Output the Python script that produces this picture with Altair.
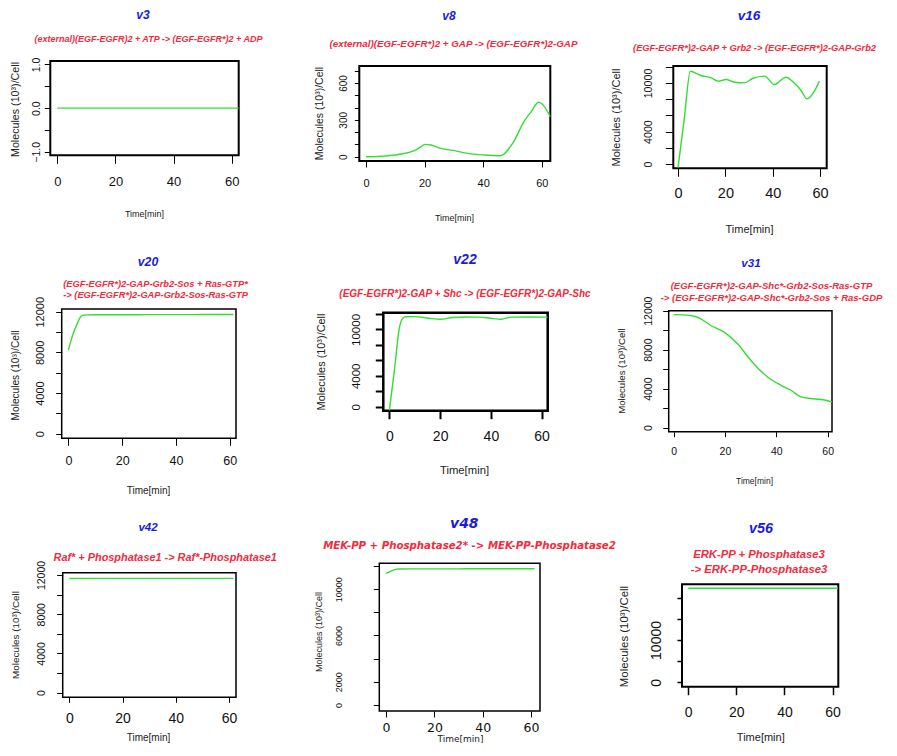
import json
import altair as alt
import pandas as pd

# ---------------- fonts / colours ----------------
NORM = "Liberation Sans"
WIDE = "DejaVu Sans"
BLUE = "#1c1cd8"
RED = "#f22a3c"
GREEN = "#33dd33"
INK = "#111111"

# ---------------- data ----------------
PANEL_NAMES = ["v3", "v8", "v16", "v20", "v22", "v31", "v42", "v48", "v56"]
REACTIONS = [
    ["(external)(EGF-EGFR)2 + ATP -> (EGF-EGFR*)2 + ADP"],
    ["(external)(EGF-EGFR*)2 + GAP -> (EGF-EGFR*)2-GAP"],
    ["(EGF-EGFR*)2-GAP + Grb2 -> (EGF-EGFR*)2-GAP-Grb2"],
    ["(EGF-EGFR*)2-GAP-Grb2-Sos + Ras-GTP*", "-> (EGF-EGFR*)2-GAP-Grb2-Sos-Ras-GTP"],
    ["(EGF-EGFR*)2-GAP + Shc -> (EGF-EGFR*)2-GAP-Shc"],
    ["(EGF-EGFR*)2-GAP-Shc*-Grb2-Sos-Ras-GTP", "-> (EGF-EGFR*)2-GAP-Shc*-Grb2-Sos + Ras-GDP"],
    ["Raf* + Phosphatase1 -> Raf*-Phosphatase1"],
    ["MEK-PP + Phosphatase2* -> MEK-PP-Phosphatase2"],
    ["ERK-PP + Phosphatase3", "-> ERK-PP-Phosphatase3"],
]
X_TITLE = "Time[min]"
Y_TITLE = "Molecules (10³)/Cell"

TIME_V3 = [0, 10, 20, 30, 40, 50, 60, 62.4]
MOL_V3 = [0, 0, 0, 0, 0, 0, 0, 0]

TIME_V8 = [0, 5, 10, 12, 16.5, 18.8, 20.2, 22.2, 25.6, 30.2, 34.7, 40.2, 45.8, 50.2, 53.9, 56.4, 58.9, 59.8, 62.9]
MOL_V8 = [0, 4, 14, 22, 49, 82, 100, 95, 68, 49, 27, 14, 8, 114, 285, 367, 443, 435, 326]

TIME_V16 = [0, 2.6, 5.2, 7.5, 9.7, 14, 17, 20.3, 23.8, 28, 31.5, 36.5, 40.7, 45.6, 49, 51.9, 54.5, 57.6, 59.7]
MOL_V16 = [-450, 5500, 11460, 11200, 10930, 10640, 10230, 10430, 10100, 10020, 10560, 10850, 9810, 10720,
           10020, 9110, 8040, 8990, 10230]

TIME_V20 = [0, 1, 2, 3, 4, 5, 7, 10, 20, 30, 40, 50, 61.3]
MOL_V20 = [8230, 9200, 10000, 10650, 11250, 11620, 11690, 11700, 11700, 11710, 11710, 11720, 11720]

TIME_V22 = [0, 2, 3.9, 5.3, 6.5, 10, 15.5, 20, 25, 30, 35, 40, 44, 48, 55, 62.4]
MOL_V22 = [-480, 4800, 10150, 11450, 11640, 11660, 11450, 11320, 11550, 11620, 11600, 11450, 11330, 11600,
           11620, 11600]

TIME_V31 = [0, 4, 8.05, 10.6, 14.5, 19.7, 24.9, 30.1, 36.6, 41.8, 45.7, 49.6, 53.5, 57.4, 61.7]
MOL_V31 = [11600, 11570, 11430, 11160, 10480, 9800, 8600, 6900, 5200, 4350, 3840, 3160, 2990, 2890, 2650]

TIME_V42 = [0, 10, 20, 30, 40, 50, 61.6]
MOL_V42 = [11640, 11660, 11660, 11660, 11660, 11660, 11660]

TIME_V48 = [0, 1, 2, 3, 4, 5, 10, 20, 30, 40, 50, 61.4]
MOL_V48 = [11370, 11450, 11560, 11650, 11710, 11740, 11750, 11750, 11755, 11760, 11760, 11760]

TIME_V56 = [0, 10, 20, 30, 40, 50, 62.3]
MOL_V56 = [22200, 22200, 22200, 22200, 22200, 22200, 22200]

SERIES = [(TIME_V3, MOL_V3), (TIME_V8, MOL_V8), (TIME_V16, MOL_V16),
          (TIME_V20, MOL_V20), (TIME_V22, MOL_V22), (TIME_V31, MOL_V31),
          (TIME_V42, MOL_V42), (TIME_V48, MOL_V48), (TIME_V56, MOL_V56)]

X_TICKS = [0, 20, 40, 60]
TICKS_12K = [0, 2000, 4000, 6000, 8000, 10000, 12000]
Y_TICKS = [
    [-1, -0.5, 0, 0.5, 1],
    [0, 100, 200, 300, 400, 500, 600, 700],
    TICKS_12K, TICKS_12K, TICKS_12K, TICKS_12K, TICKS_12K, TICKS_12K,
    [0, 5000, 10000, 15000, 20000],
]
Y_LABELED = [
    [-1, 0, 1],
    [0, 300, 600],
    [0, 4000, 10000],
    [0, 4000, 8000, 12000],
    [0, 4000, 10000],
    [0, 4000, 8000, 12000],
    [0, 4000, 8000, 12000],
    [0, 2000, 6000, 10000],
    [0, 10000],
]
Y_FORMAT = [".1f", "d", "d", "d", "d", "d", "d", "d", "d"]

# ---------------- layout (page pixel positions) ----------------
CELL_X = [8, 300, 600]
CELL_W = [292, 300, 285]
CELL_Y = [8, 250, 505]
CELL_H = [242, 255, 234]

LAYOUT = [
    dict(box=(49.3, 61, 237.7, 155.3), xd=(-2.4, 62.4), yd=(-1.08, 1.08), tsy=6, tsx=8, tw=1, sw=2,
         title=(142, 15, 12, NORM), sub=(147, 39, 9.0, NORM, 12),
         xlab=(181.7, 13, NORM), ylab=(35, 10.5, NORM), time=(143, 213, 9, NORM), ytitle=(14, 109, 10.7, NORM)),
    dict(box=(358.3, 66, 549.3, 161), xd=(-2.3, 62.9), yd=(-35, 738), tsy=5, tsx=6, tw=1, sw=2,
         title=(448, 16, 12, NORM), sub=(452, 43, 9.8, NORM, 13),
         xlab=(183, 11, NORM), ylab=(342.7, 10, NORM), time=(453, 217, 9, NORM), ytitle=(318, 113, 10.5, NORM)),
    dict(box=(672.3, 66, 825.7, 168.3), xd=(-2.0, 62.8), yd=(-530, 12100), tsy=8, tsx=8, tw=1, sw=2,
         title=(748, 15, 13.5, NORM), sub=(753, 48, 9.3, NORM, 13),
         xlab=(193.3, 14.5, NORM), ylab=(647.7, 10.7, NORM), time=(748, 229, 11, NORM), ytitle=(615, 117, 11, NORM)),
    dict(box=(60.7, 309, 235, 438.3), xd=(-2.5, 62.3), yd=(-452, 12266), tsy=6, tsx=7, tw=1, sw=1.5,
         title=(147, 261.7, 12.3, NORM), sub=(154, 283.3, 9.3, NORM, 11),
         xlab=(460.7, 12.5, NORM), ylab=(39.3, 11, NORM), time=(147, 490, 10, NORM), ytitle=(14, 375, 10.1, NORM)),
    dict(box=(382.3, 312.7, 546.7, 410.7), xd=(-2.4, 62.4), yd=(-518, 12170), tsy=8, tsx=8, tw=2, sw=2.5,
         title=(464, 259.3, 14, NORM), sub=(463.5, 293.3, 10, NORM, 12),
         xlab=(436.7, 14, NORM), ylab=(355, 11.5, NORM), time=(463, 470, 11.3, NORM), ytitle=(320.7, 361.5, 10.9, NORM)),
    dict(box=(667.7, 310.7, 831, 431.7), xd=(-1.9, 61.7), yd=(-410, 12000), tsy=6, tsx=5, tw=1, sw=1.5,
         title=(750, 263.3, 11.6, NORM), sub=(770, 284.3, 9.5, NORM, 12.4),
         xlab=(451.7, 10.5, NORM), ylab=(647, 10.5, NORM), time=(753, 480, 8.5, NORM), ytitle=(620.7, 370.6, 9.6, NORM)),
    dict(box=(61.7, 572.7, 235, 697.3), xd=(-2.5, 62.6), yd=(-470, 12235), tsy=6, tsx=5, tw=1, sw=1.5,
         title=(147, 526.7, 11.5, NORM), sub=(163.7, 556, 10.9, NORM, 13),
         xlab=(718.3, 14, NORM), ylab=(40, 10.5, NORM), time=(147, 737, 10, NORM), ytitle=(14, 634.5, 9.9, NORM)),
    dict(box=(378.3, 563.3, 539, 711), xd=(-2.8, 63.7), yd=(-518, 12232), tsy=6, tsx=6, tw=1, sw=1.5,
         title=(463.3, 523.3, 14, WIDE), sub=(468, 545, 10.2, WIDE, 12),
         xlab=(727.7, 12.5, WIDE), ylab=(337.3, 9, NORM), time=(459, 738, 9, WIDE), ytitle=(317.7, 631.5, 9, NORM)),
    dict(box=(681, 584.3, 837.3, 686.7), xd=(-2.6, 62.4), yd=(-1040, 23150), tsy=5, tsx=8, tw=1.5, sw=2,
         title=(760, 528.3, 14.4, NORM), sub=(757.5, 553.3, 11.3, NORM, 15),
         xlab=(712.3, 14, NORM), ylab=(655, 14, NORM), time=(759.3, 737, 11, NORM), ytitle=(623.3, 636, 11.4, NORM)),
]


def make_panel(i):
    L = LAYOUT[i]
    r, c = divmod(i, 3)
    ox, oy, W, H = CELL_X[c], CELL_Y[r], CELL_W[c], CELL_H[r]
    x0, y0, x1, y1 = L["box"]
    bx0, by0, bx1, by1 = x0 - ox, y0 - oy, x1 - ox, y1 - oy
    xs = alt.Scale(domain=list(L["xd"]), range=[bx0, bx1], nice=False, zero=False)
    ys = alt.Scale(domain=list(L["yd"]), range=[by1, by0], nice=False, zero=False)
    tcx, tcy, tfs, tfont = L["title"]
    scx, scy, sfs, sfont, slh = L["sub"]
    xl_cy, xl_fs, xl_font = L["xlab"]
    yl_cx, yl_fs, yl_font = L["ylab"]
    tm_cx, tm_cy, tm_fs, tm_font = L["time"]
    yt_cx, yt_cy, yt_fs, yt_font = L["ytitle"]
    tsx, tsy, tw = L["tsx"], L["tsy"], L["tw"]

    reaction = REACTIONS[i] if len(REACTIONS[i]) > 1 else REACTIONS[i][0]
    top_axis = alt.Axis(
        orient="top", offset=0, domain=False, ticks=False, labels=False, grid=False,
        minExtent=0, maxExtent=0,
        title=reaction, titleX=scx - ox, titleY=scy - oy - 0.45 * sfs,
        titleAlign="center", titleBaseline="top", titleAngle=0,
        titleColor=RED, titleFont=sfont, titleFontSize=sfs, titleFontStyle="italic",
        titleFontWeight="bold", titleLineHeight=slh,
    )
    bottom_axis = alt.Axis(
        orient="bottom", offset=-(H - by1), values=X_TICKS, format="d", domain=False, grid=False,
        ticks=True, tickSize=tsx, tickWidth=tw, tickColor="black",
        labelFont=xl_font, labelFontSize=xl_fs, labelColor=INK, labelAngle=0,
        labelAlign="center", labelBaseline="middle",
        labelPadding=xl_cy - oy - by1 - tsx, labelFlush=False, labelOverlap=False,
        title=X_TITLE, titleX=tm_cx - ox, titleY=tm_cy - oy - by1,
        titleAlign="center", titleBaseline="middle", titleAngle=0,
        titleFont=tm_font, titleFontSize=tm_fs, titleFontWeight="normal", titleColor="#222222",
    )
    label_expr = "indexof(%s, datum.value) >= 0 ? datum.label : ''" % json.dumps(Y_LABELED[i])
    left_axis = alt.Axis(
        orient="left", offset=-bx0, values=Y_TICKS[i], format=Y_FORMAT[i], labelExpr=label_expr,
        domain=False, grid=False, minExtent=0,
        ticks=True, tickSize=tsy, tickWidth=tw, tickColor="black",
        labelFont=yl_font, labelFontSize=yl_fs, labelColor=INK, labelAngle=270,
        labelAlign="center", labelBaseline="middle",
        labelPadding=bx0 - tsy - (yl_cx - ox), labelFlush=False, labelOverlap=False,
        title=Y_TITLE, titleX=(yt_cx - ox) - bx0, titleY=yt_cy - oy,
        titleAngle=270, titleAlign="center", titleBaseline="middle",
        titleFont=yt_font, titleFontSize=yt_fs, titleFontWeight="normal", titleColor="#222222",
    )

    df = pd.DataFrame({"time": SERIES[i][0], "molecules": SERIES[i][1]})
    frame = alt.Chart(pd.DataFrame({"k": [0]})).mark_rect(
        fillOpacity=0, stroke="black", strokeWidth=L["sw"]
    ).encode(
        x=alt.XDatum(L["xd"][0], type="quantitative", scale=xs, axis=top_axis),
        x2=alt.X2Datum(L["xd"][1]),
        y=alt.YDatum(L["yd"][0], type="quantitative", scale=ys, axis=None),
        y2=alt.Y2Datum(L["yd"][1]),
    )
    line = alt.Chart(df).mark_line(color=GREEN, strokeWidth=1.4, interpolate="monotone").encode(
        x=alt.X("time:Q", scale=xs, axis=bottom_axis),
        y=alt.Y("molecules:Q", scale=ys, axis=left_axis),
    )
    return alt.layer(frame, line).resolve_axis(x="independent", y="independent").properties(
        width=W, height=H,
        title=alt.TitleParams(
            PANEL_NAMES[i], anchor="start", frame="group", align="center",
            dx=tcx - ox, offset=-(tcy - oy + 0.57 * tfs),
            color=BLUE, font=tfont, fontSize=tfs, fontStyle="italic", fontWeight="bold",
        ),
    )


chart = alt.concat(
    *[make_panel(i) for i in range(9)], columns=3, spacing=0, bounds="flush"
).properties(padding=0).configure_view(strokeWidth=0)

chart.save("out.html", embed_options={"renderer": "svg", "actions": False})
